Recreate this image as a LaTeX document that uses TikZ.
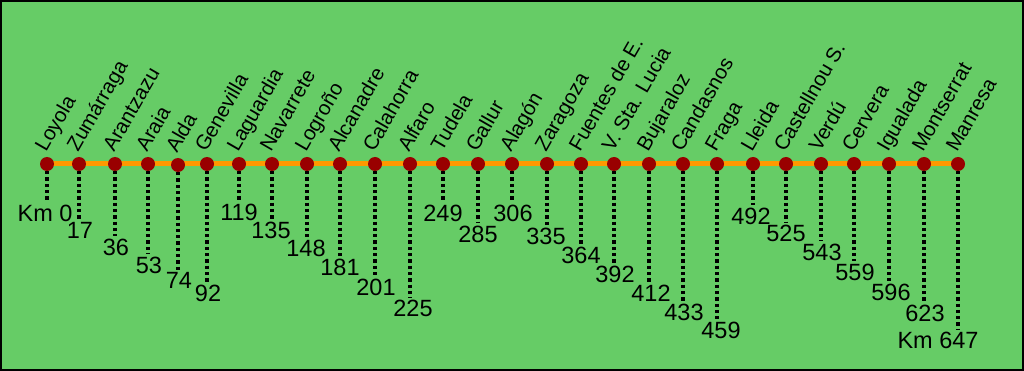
\documentclass[tikz,border=0pt]{standalone}
\usepackage{fontspec}
\setmainfont{Liberation Sans}
\usepackage{tikz}
\usetikzlibrary{backgrounds}

\definecolor{plaingreen}{RGB}{102,204,102}
\definecolor{trackorange}{RGB}{255,153,0}
\definecolor{stopred}{RGB}{153,0,0}

\begin{document}
\begin{tikzpicture}[x=1pt, y=-1pt, stop/.style={circle, fill=stopred,
      inner sep=0pt, minimum size=14pt}, town/.style={rotate=60,
      anchor=base west, inner sep=0pt, font=\fontsize{20.5pt}{22pt}\selectfont},
    km/.style={inner sep=1pt, font=\fontsize{23.5pt}{25pt}\selectfont},
    drop/.style={line width=3.3pt, dash pattern=on 3.3pt off 3pt,
      shorten >=1pt}, ]
    \useasboundingbox (0,0) rectangle (1024,371);

    % Stops along the line
    \node[stop] (s1) at (47,164) {}; \node[stop] (s2) at (79,164) {};
    \node[stop] (s3) at (115,164) {}; \node[stop] (s4) at (148,164) {};
    \node[stop] (s5) at (178,165) {}; \node[stop] (s6) at (207,164) {};
    \node[stop] (s7) at (239,164) {}; \node[stop] (s8) at (272,164) {};
    \node[stop] (s9) at (307,164) {}; \node[stop] (s10) at (340,164) {};
    \node[stop] (s11) at (375,164) {}; \node[stop] (s12) at (410,164) {};
    \node[stop] (s13) at (443,164) {}; \node[stop] (s14) at (478,164) {};
    \node[stop] (s15) at (512,164) {}; \node[stop] (s16) at (547,164) {};
    \node[stop] (s17) at (581,164) {}; \node[stop] (s18) at (614,164) {};
    \node[stop] (s19) at (649,164) {}; \node[stop] (s20) at (683,164) {};
    \node[stop] (s21) at (717,164) {}; \node[stop] (s22) at (753,164) {};
    \node[stop] (s23) at (786,164) {}; \node[stop] (s24) at (821,164) {};
    \node[stop] (s25) at (854,164) {}; \node[stop] (s26) at (889,164) {};
    \node[stop] (s27) at (924,164) {}; \node[stop] (s28) at (958,164) {};

    % Green plain and the track behind the stops
    \begin{scope}[on background layer]
      \draw[line width=2pt, fill=plaingreen] (1,1) rectangle (1023,370);
      \draw[line width=5pt, trackorange] (s1.center) -- (s28.center);
    \end{scope}

    % Town names
    \node[town] (t1) at ([shift={(-1,-11)}]s1) {Loyola};
    \node[town] (t2) at ([shift={(-1,-11)}]s2) {Zumárraga};
    \node[town] (t3) at ([shift={(-1,-11)}]s3) {Arantzazu};
    \node[town] (t4) at ([shift={(-1,-11)}]s4) {Araia};
    \node[town] (t5) at ([shift={(-1,-11)}]s5) {Alda};
    \node[town] (t6) at ([shift={(-1,-11)}]s6) {Genevilla};
    \node[town] (t7) at ([shift={(-1,-11)}]s7) {Laguardia};
    \node[town] (t8) at ([shift={(-1,-11)}]s8) {Navarrete};
    \node[town] (t9) at ([shift={(-1,-11)}]s9) {Logroño};
    \node[town] (t10) at ([shift={(-1,-11)}]s10) {Alcanadre};
    \node[town] (t11) at ([shift={(-1,-11)}]s11) {Calahorra};
    \node[town] (t12) at ([shift={(-1,-11)}]s12) {Alfaro};
    \node[town] (t13) at ([shift={(-1,-11)}]s13) {Tudela};
    \node[town] (t14) at ([shift={(-1,-11)}]s14) {Gallur};
    \node[town] (t15) at ([shift={(-1,-11)}]s15) {Alagón};
    \node[town] (t16) at ([shift={(-1,-11)}]s16) {Zaragoza};
    \node[town] (t17) at ([shift={(-1,-11)}]s17) {Fuentes de E.};
    \node[town] (t18) at ([shift={(-1,-11)}]s18) {V. Sta. Lucia};
    \node[town] (t19) at ([shift={(-1,-11)}]s19) {Bujaraloz};
    \node[town] (t20) at ([shift={(-1,-11)}]s20) {Candasnos};
    \node[town] (t21) at ([shift={(-1,-11)}]s21) {Fraga};
    \node[town] (t22) at ([shift={(-1,-11)}]s22) {Lleida};
    \node[town] (t23) at ([shift={(-1,-11)}]s23) {Castellnou S.};
    \node[town] (t24) at ([shift={(-1,-11)}]s24) {Verdú};
    \node[town] (t25) at ([shift={(-1,-11)}]s25) {Cervera};
    \node[town] (t26) at ([shift={(-1,-11)}]s26) {Igualada};
    \node[town] (t27) at ([shift={(-1,-11)}]s27) {Montserrat};
    \node[town] (t28) at ([shift={(-1,-11)}]s28) {Manresa};

    % Distances
    \node[km] (k1) at (45,213) {Km 0}; \node[km] (k2) at (80,230) {17};
    \node[km] (k3) at (116,247) {36}; \node[km] (k4) at (149,265) {53};
    \node[km] (k5) at (179,280) {74}; \node[km] (k6) at (208,293) {92};
    \node[km] (k7) at (239,212) {119}; \node[km] (k8) at (271,230) {135};
    \node[km] (k9) at (306,248) {148}; \node[km] (k10) at (340,267) {181};
    \node[km] (k11) at (376,287) {201}; \node[km] (k12) at (413,308) {225};
    \node[km] (k13) at (443,213) {249}; \node[km] (k14) at (478,234) {285};
    \node[km] (k15) at (513,213) {306}; \node[km] (k16) at (546,236) {335};
    \node[km] (k17) at (581,255) {364}; \node[km] (k18) at (615,274) {392};
    \node[km] (k19) at (651,293) {412}; \node[km] (k20) at (684,312) {433};
    \node[km] (k21) at (721,330) {459}; \node[km] (k22) at (751,216) {492};
    \node[km] (k23) at (786,233) {525}; \node[km] (k24) at (822,252) {543};
    \node[km] (k25) at (855,272) {559}; \node[km] (k26) at (891,292) {596};
    \node[km] (k27) at (925,313) {623}; \node[km] (k28) at (938,340) {Km 647};

    % Dotted drops
    \foreach \i in {1,...,28}
      \draw[drop] (s\i.south) -- (s\i |- k\i.north);

\end{tikzpicture}
\end{document}
